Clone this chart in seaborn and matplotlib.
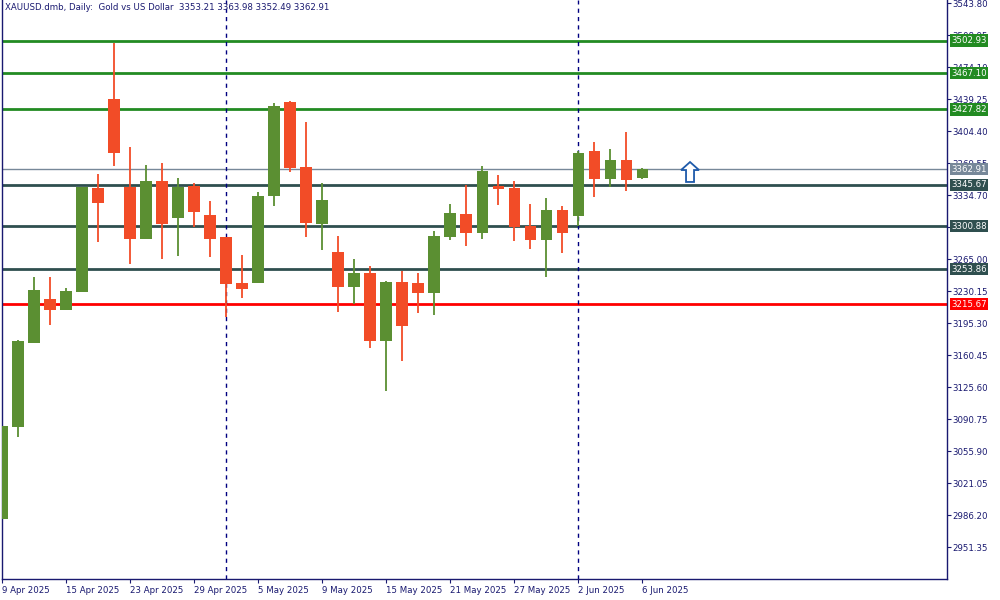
import numpy as np
import pandas as pd
import matplotlib
matplotlib.use("Agg")
import matplotlib.pyplot as plt
import matplotlib.transforms as mtrans
from matplotlib.patches import Polygon
import seaborn as sns

# ---------------- data ----------------
dates = ["9 Apr", "10 Apr", "11 Apr", "14 Apr", "15 Apr", "16 Apr", "17 Apr", "22 Apr", "23 Apr",
         "24 Apr", "25 Apr", "28 Apr", "29 Apr", "30 Apr", "1 May", "2 May", "5 May", "6 May",
         "7 May", "8 May", "9 May", "12 May", "13 May", "14 May", "15 May", "16 May", "19 May",
         "20 May", "21 May", "22 May", "23 May", "26 May", "27 May", "28 May", "29 May", "30 May",
         "2 Jun", "3 Jun", "4 Jun", "5 Jun", "6 Jun"]
opens = [2982.2, 3082.4, 3173.9, 3221.4, 3209.8, 3229.4, 3342.3, 3439.3, 3343.4, 3287.1,
         3349.9, 3310.0, 3344.5, 3312.9, 3288.9, 3238.9, 3239.2, 3333.9, 3436.0, 3365.2,
         3303.4, 3272.6, 3234.8, 3249.8, 3176.0, 3240.0, 3238.9, 3228.3, 3289.3, 3314.0,
         3293.6, 3344.8, 3342.3, 3301.3, 3286.0, 3318.4, 3312.2, 3382.6, 3352.5, 3372.8, 3353.21]
highs = [3099.0, 3176.8, 3245.4, 3245.4, 3233.4, 3343.4, 3357.6, 3500.2, 3387.0, 3367.4,
         3369.6, 3353.2, 3347.8, 3328.2, 3289.0, 3269.4, 3338.0, 3434.9, 3437.1, 3414.2,
         3347.8, 3290.1, 3265.0, 3257.4, 3241.4, 3251.9, 3249.8, 3295.5, 3324.9, 3345.6,
         3366.3, 3356.5, 3349.9, 3324.9, 3331.4, 3322.7, 3383.0, 3392.4, 3384.8, 3403.3, 3363.98]
lows = [2957.0, 3071.5, 3173.5, 3193.4, 3209.0, 3229.0, 3283.9, 3366.7, 3259.9, 3287.0,
        3265.3, 3268.6, 3300.2, 3267.5, 3202.2, 3222.9, 3239.0, 3323.0, 3360.1, 3289.3,
        3275.1, 3207.6, 3216.3, 3168.4, 3121.6, 3154.3, 3206.5, 3204.3, 3286.0, 3279.5,
        3287.1, 3324.1, 3284.9, 3276.2, 3245.7, 3271.9, 3300.9, 3332.9, 3343.7, 3339.4, 3352.49]
closes = [3083.1, 3175.7, 3231.2, 3209.8, 3230.2, 3343.4, 3326.3, 3380.8, 3287.1, 3349.9,
          3303.4, 3343.4, 3316.5, 3287.1, 3238.1, 3232.7, 3333.6, 3431.6, 3364.4, 3304.5,
          3329.3, 3234.8, 3249.8, 3176.0, 3240.0, 3192.4, 3228.3, 3290.1, 3315.1, 3293.6,
          3360.8, 3341.6, 3300.2, 3286.0, 3318.4, 3293.6, 3380.4, 3352.5, 3372.8, 3351.4, 3362.91]

level_values = [3502.93, 3467.10, 3427.82, 3345.67, 3300.88, 3253.86, 3215.67]
level_colors = ["#228B22", "#228B22", "#228B22", "#2F4F4F", "#2F4F4F", "#2F4F4F", "#FF0000"]
current_price = 3362.91

y_ticks = [3543.80, 3508.95, 3474.10, 3439.25, 3404.40, 3369.55, 3334.70, 3299.85, 3265.00,
           3230.15, 3195.30, 3160.45, 3125.60, 3090.75, 3055.90, 3021.05, 2986.20, 2951.35]
x_tick_pos = [0, 4, 8, 12, 16, 20, 24, 28, 32, 36, 40]
x_tick_labels = ["9 Apr 2025", "15 Apr 2025", "23 Apr 2025", "29 Apr 2025", "5 May 2025",
                 "9 May 2025", "15 May 2025", "21 May 2025", "27 May 2025", "2 Jun 2025", "6 Jun 2025"]
separators = [14, 36]
title = "XAUUSD.dmb, Daily:  Gold vs US Dollar  3353.21 3363.98 3352.49 3362.91"

# arrow marker (outline "buy" arrow)
arrow_x = 43
arrow_tip, arrow_neck, arrow_base = 3370.6, 3361.9, 3348.9

# ---------------- style ----------------
sns.set_theme(style="white")
plt.rcParams["font.family"] = ["DejaVu Sans"]
AXC = "#191970"
UP = "#5B8F32"
DN = "#F24C27"

df = pd.DataFrame({"date": dates, "open": opens, "high": highs, "low": lows, "close": closes})
df["idx"] = np.arange(len(df))
df["up"] = df["close"] >= df["open"]
df["bottom"] = df[["open", "close"]].min(axis=1)
df["height"] = (df["close"] - df["open"]).abs().clip(lower=1.0)
df["color"] = np.where(df["up"], UP, DN)

fig = plt.figure(figsize=(10, 6), dpi=100)
ax = fig.add_axes([0.002, 21 / 600, 0.945, 579 / 600])

ax.set_xlim(0, 59.06)
ax.set_ylim(2916.5, 3547.07)

# levels
for v, c in zip(level_values, level_colors):
    ax.axhline(v, color=c, lw=2, zorder=1)
ax.axhline(current_price, color="#778899", lw=1, zorder=1)

for s in separators:
    ax.axvline(s, color="#000080", lw=1, ls=(0, (3, 3)), zorder=1.5)

# candles
ax.vlines(df["idx"], df["low"], df["high"], colors=df["color"], lw=1.3, zorder=2)
ax.bar(df["idx"], df["height"], bottom=df["bottom"], width=0.69, color=df["color"],
       edgecolor="none", zorder=3)

# arrow
aw_head, aw_shaft = 0.56, 0.25
arrow = Polygon([[arrow_x, arrow_tip], [arrow_x + aw_head, arrow_neck], [arrow_x + aw_shaft, arrow_neck],
                 [arrow_x + aw_shaft, arrow_base], [arrow_x - aw_shaft, arrow_base],
                 [arrow_x - aw_shaft, arrow_neck], [arrow_x - aw_head, arrow_neck]],
                closed=True, facecolor="white", edgecolor="#1E5AAA", lw=1.3, zorder=4)
ax.add_patch(arrow)

# axes
ax.yaxis.tick_right()
ax.set_yticks(y_ticks)
ax.set_yticklabels([f"{t:.2f}" for t in y_ticks])
ax.set_xticks(x_tick_pos)
ax.set_xticklabels(x_tick_labels, ha="left")
ax.tick_params(axis="y", colors=AXC, labelsize=6.2, length=3, width=0.8, pad=1, direction="out",
               right=True, left=False, labelright=True, labelleft=False)
ax.tick_params(axis="x", colors=AXC, labelsize=6.2, length=3, width=0.8, pad=2, direction="out",
               bottom=True)
for lab in ax.get_yticklabels() + ax.get_xticklabels():
    lab.set_color(AXC)
for side in ["left", "right", "bottom"]:
    ax.spines[side].set_color(AXC)
    ax.spines[side].set_linewidth(1)
ax.spines["top"].set_visible(False)
ax.grid(False)

# price boxes on right axis
trans = mtrans.blended_transform_factory(ax.transAxes, ax.transData)
for v, c in list(zip(level_values, level_colors)) + [(current_price, "#778899")]:
    ax.text(1.0045, v, f"{v:.2f}", transform=trans, ha="left", va="center", fontsize=6.2,
            color="white", zorder=10, clip_on=False,
            bbox=dict(boxstyle="square,pad=0.18", fc=c, ec="none"))

fig.text(0.005, 0.987, title, ha="left", va="center", fontsize=6.2, color=AXC)

fig.savefig("out.png", dpi=100, facecolor="white")
